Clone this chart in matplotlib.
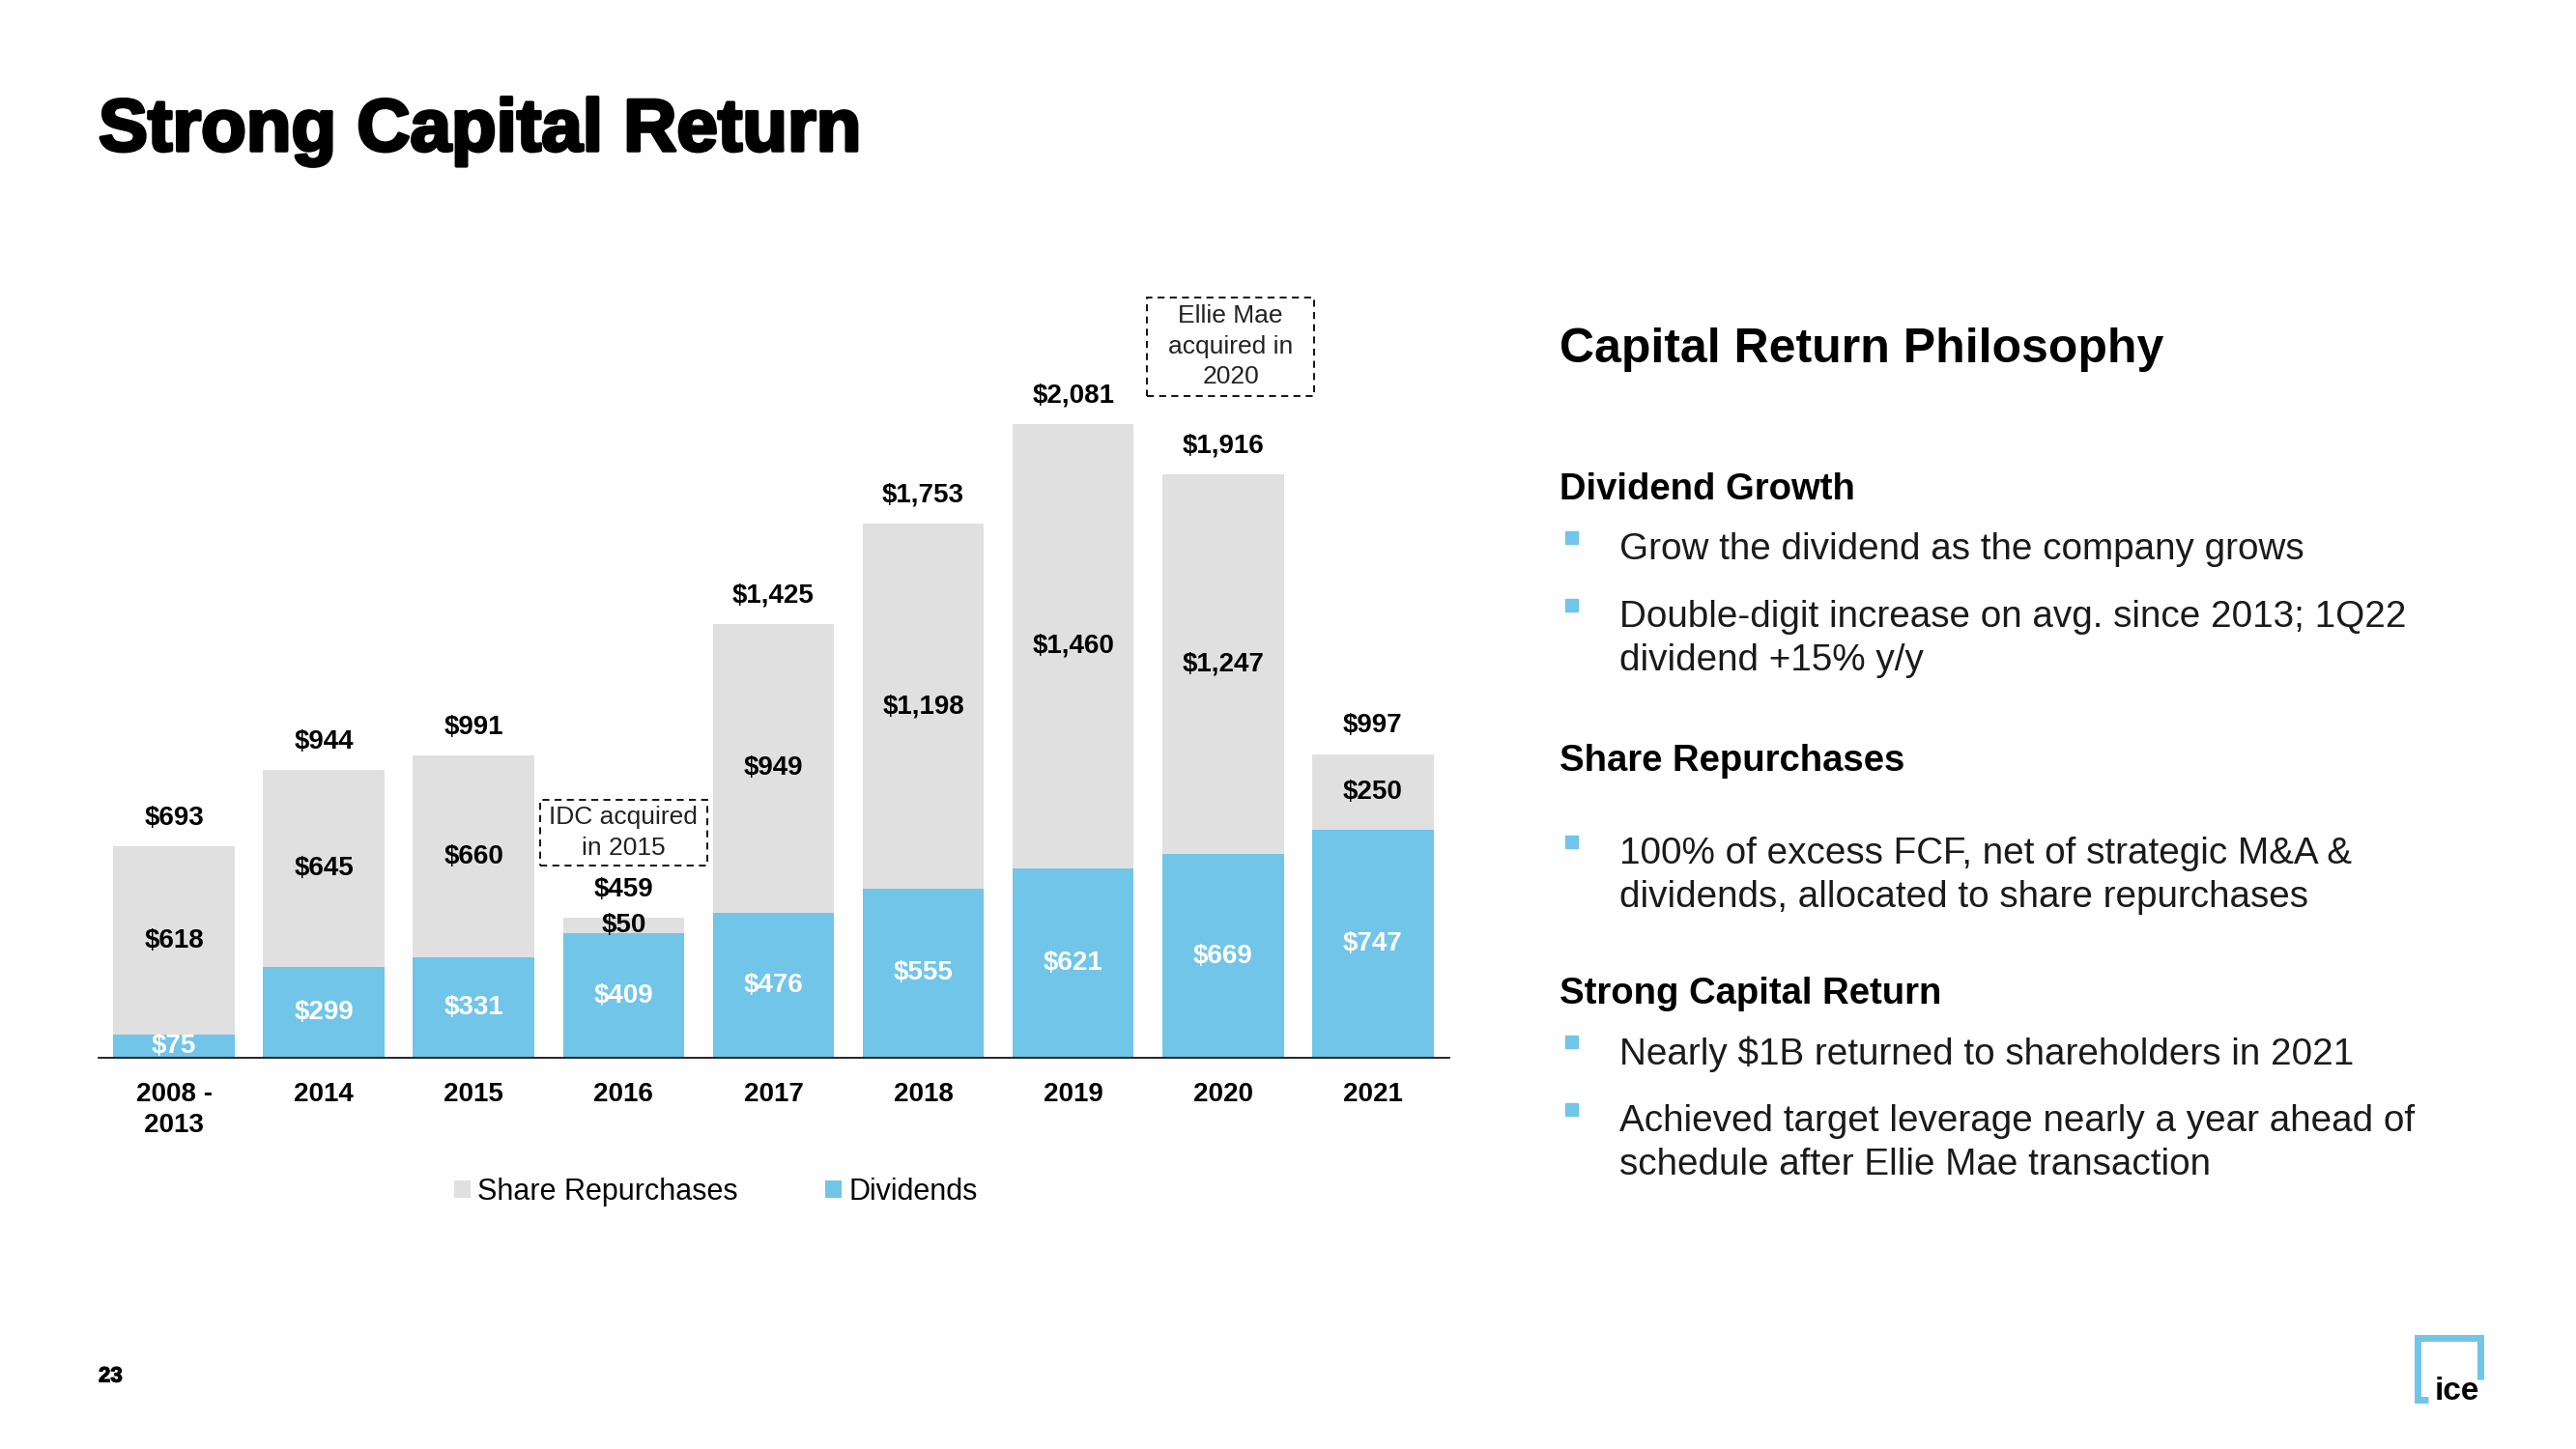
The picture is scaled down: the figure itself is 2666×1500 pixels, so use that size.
import matplotlib.pyplot as plt
import matplotlib.patheffects as pe
from matplotlib.patches import Rectangle

plt.rcParams['font.family'] = ['Liberation Sans', 'DejaVu Sans']

# capital return, $ millions
years = ["2008 -\n2013", "2014", "2015", "2016", "2017", "2018", "2019", "2020", "2021"]
dividends = [75, 299, 331, 409, 476, 555, 621, 669, 747]
repurchases = [618, 645, 660, 50, 949, 1198, 1460, 1247, 250]
totals = [693, 944, 991, 459, 1425, 1753, 2081, 1916, 997]

blue = "#71C5E8"
grey = "#E0E0E0"

fig = plt.figure(figsize=(26.66, 15), dpi=100)

# background axes in pixel coords for slide text
bg = fig.add_axes([0, 0, 1, 1])
bg.set_xlim(0, 2666)
bg.set_ylim(1500, 0)
bg.axis('off')

ax = fig.add_axes([102 / 2666, 405 / 1500, 1398 / 2666, 820 / 1500])
ax.patch.set_visible(False)
x = list(range(len(years)))
ax.bar(x, dividends, width=0.81, color=blue, label="Dividends")
ax.bar(x, repurchases, bottom=dividends, width=0.81, color=grey, label="Share Repurchases")
ax.set_xlim(-0.503, 8.51)
ax.set_ylim(0, 2600)

for i in x:
    ax.annotate("\\$" + f"{totals[i]:,}", (i, totals[i]), xytext=(0, 21),
                textcoords='offset points', ha='center', va='center',
                fontsize=20, fontweight='bold', color='black')
    ax.text(i, dividends[i] + repurchases[i] / 2, "\\$" + f"{repurchases[i]:,}",
            ha='center', va='center', fontsize=20, fontweight='bold', color='black')
    ax.text(i, dividends[i] / 2, "\\$" + f"{dividends[i]:,}",
            ha='center', va='center', fontsize=20, fontweight='bold', color='white')

ax.set_xticks(x, years, fontsize=20, fontweight='bold')
for lbl in ax.get_xticklabels():
    lbl.set_linespacing(1.3)
ax.tick_params(axis='x', length=0, pad=18)
ax.set_yticks([])
for s in ['left', 'top', 'right']:
    ax.spines[s].set_visible(False)
ax.spines['bottom'].set_linewidth(1.2)
ax.spines['bottom'].set_color('black')

# acquisition notes
notes = [(3, totals[3] + 280, 216, "IDC acquired\nin 2015"),
         (7.05, totals[7] + 418, 323, "Ellie Mae\nacquired in\n2020")]
for nx, ny, nh, txt in notes:
    ax.add_patch(Rectangle((nx - 0.5575, ny - nh / 2), 1.115, nh, fill=False,
                           ec='black', lw=1.3, ls=(0, (4, 3)), clip_on=False))
    ax.text(nx, ny, txt, ha='center', va='center', fontsize=19,
            linespacing=1.4, color='#222222')

h, l = ax.get_legend_handles_labels()
ax.legend(h[::-1], l[::-1], ncol=2, loc='center left',
          bbox_to_anchor=(470, 1234), bbox_transform=bg.transData,
          frameon=False, fontsize=22, handlelength=0.55, handleheight=0.55,
          handletextpad=0.25, columnspacing=2.95, borderpad=0, borderaxespad=0)

# title and page furniture
bg.text(102, 156, "Strong Capital Return", fontsize=55, fontweight='bold',
        va='baseline', path_effects=[pe.withStroke(linewidth=2.5, foreground='black')])
bg.text(102, 1425, "23", fontsize=16, fontweight='bold', va='center',
        path_effects=[pe.withStroke(linewidth=0.8, foreground='black')])
bg.plot([2513, 2502, 2502, 2567, 2567], [1449, 1449, 1385, 1385, 1428],
        color=blue, lw=5, solid_joinstyle='miter', solid_capstyle='butt')
bg.text(2543, 1449, "ice", ha='center', va='baseline', fontsize=24, fontweight='bold')

# right-hand panel
bg.text(1614, 362, "Capital Return Philosophy", fontsize=36, fontweight='bold', va='center')

headings = [("Dividend Growth", 507), ("Share Repurchases", 788), ("Strong Capital Return", 1029)]
for txt, y in headings:
    bg.text(1614, y, txt, fontsize=27.5, fontweight='bold', va='center')

bullets = [(["Grow the dividend as the company grows"], 569),
           (["Double-digit increase on avg. since 2013; 1Q22", "dividend +15% y/y"], 639),
           (["100% of excess FCF, net of strategic M&A &",
             "dividends, allocated to share repurchases"], 884),
           (["Nearly \\$1B returned to shareholders in 2021"], 1091),
           (["Achieved target leverage nearly a year ahead of",
             "schedule after Ellie Mae transaction"], 1161)]
for lines, y in bullets:
    bg.add_patch(Rectangle((1620, y - 19), 13, 13, color=blue))
    for k, line in enumerate(lines):
        bg.text(1676, y + 45 * k, line, fontsize=27.8, va='center', color='#1a1a1a')

fig.savefig("out.png", dpi=100)
